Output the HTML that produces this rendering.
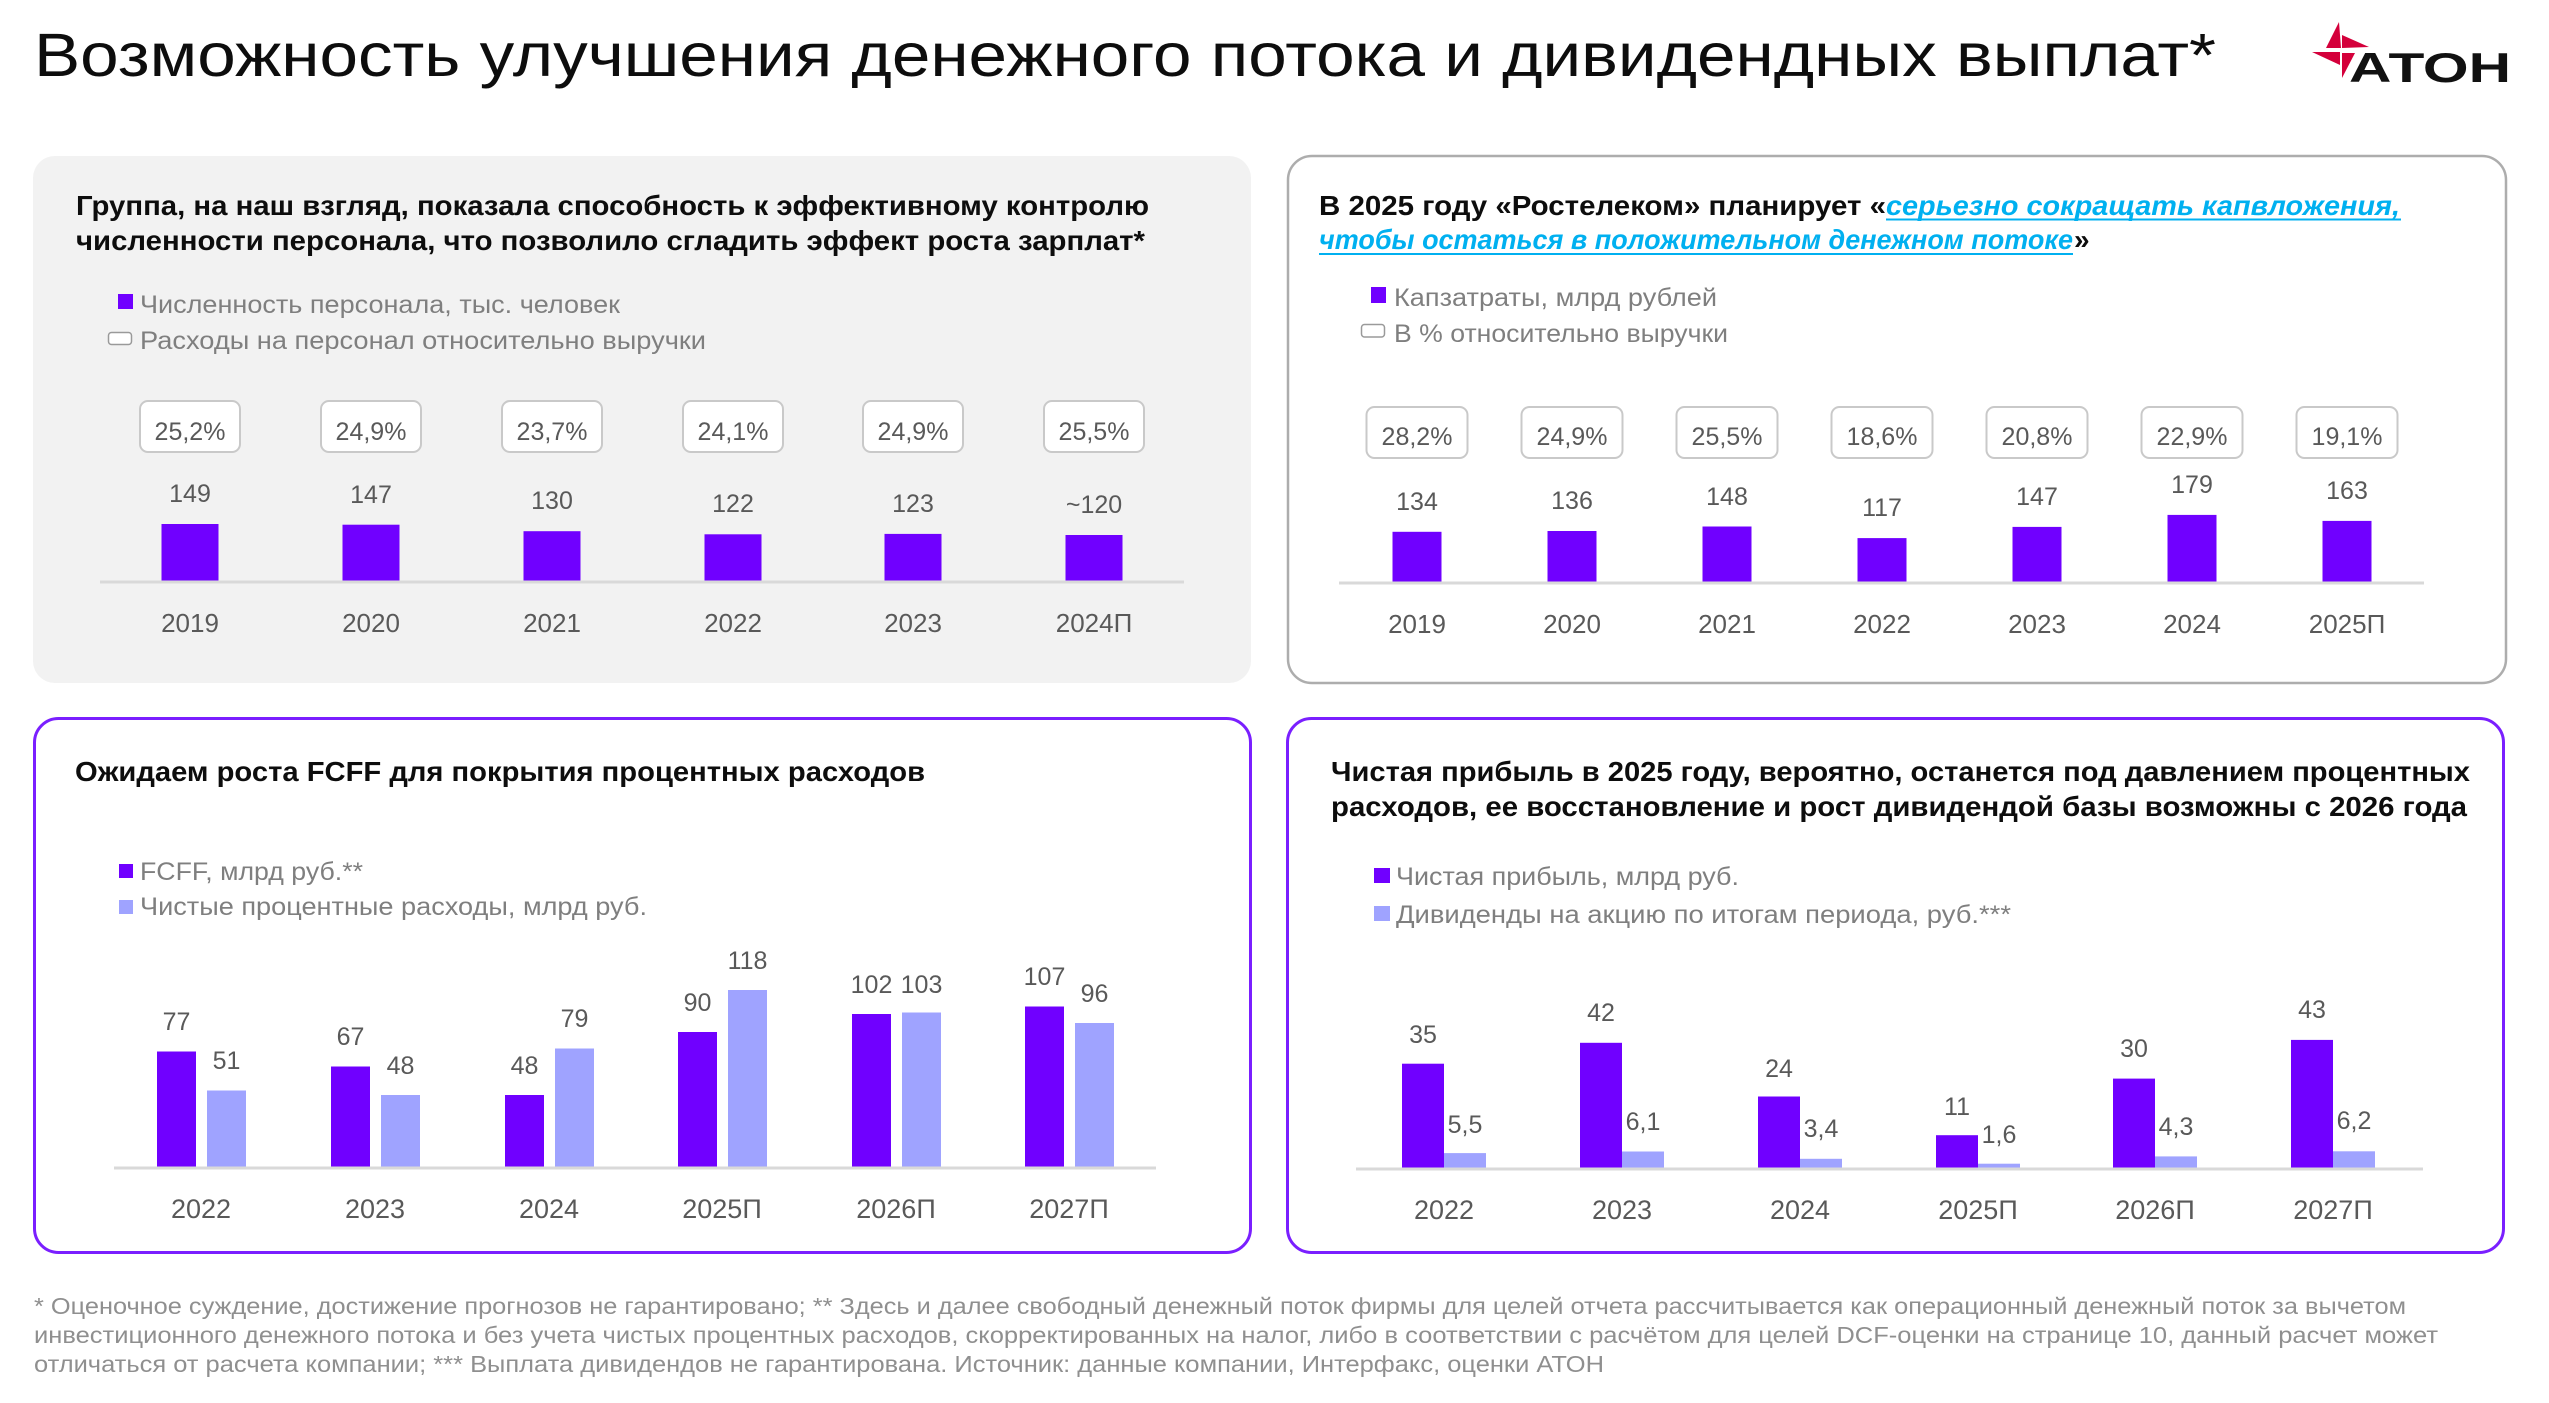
<!DOCTYPE html>
<html>
<head>
<meta charset="utf-8">
<style>
html,body{margin:0;padding:0;background:#fff;}
svg{display:block;}
text{font-family:"Liberation Sans","Noto Sans CJK SC",sans-serif;}
.t{font-weight:bold;font-size:28px;fill:#0d0d0d;}
.lg{font-size:25px;fill:#7f7f7f;}
.v{font-size:25px;fill:#595959;text-anchor:middle;}
.y{font-size:26px;fill:#595959;text-anchor:middle;}
.y2{font-size:27px;fill:#595959;text-anchor:middle;}
.fn{font-size:23px;fill:#8f8f8f;}
</style>
</head>
<body>
<svg width="2549" height="1403" viewBox="0 0 2549 1403" xmlns="http://www.w3.org/2000/svg">
<rect width="2549" height="1403" fill="#fff"/>

<!-- Title -->
<text x="34" y="76" font-size="61" fill="#0d0d0d" textLength="2182" lengthAdjust="spacingAndGlyphs">Возможность улучшения денежного потока и дивидендных выплат*</text>

<!-- Logo -->
<g fill="#d4003b">
<polygon points="2339,22 2341,48 2326,48"/>
<polygon points="2342,35 2369,47 2342,48"/>
<polygon points="2312,52 2340,52 2340,65"/>
<polygon points="2342,53 2355,53 2342,78"/>
</g>
<text x="2349" y="82" font-size="42" font-weight="bold" fill="#111" textLength="162" lengthAdjust="spacingAndGlyphs">АТОН</text>

<!-- Card 1 -->
<rect x="33" y="156" width="1218" height="527" rx="22" fill="#f2f2f2"/>
<text class="t" x="76" y="215" textLength="1073" lengthAdjust="spacingAndGlyphs">Группа, на наш взгляд, показала способность к эффективному контролю</text>
<text class="t" x="76" y="250" textLength="1069" lengthAdjust="spacingAndGlyphs">численности персонала, что позволило сгладить эффект роста зарплат*</text>
<rect x="118" y="294" width="15" height="15" fill="#7000ff"/>
<text class="lg" x="140" y="313" textLength="480" lengthAdjust="spacingAndGlyphs">Численность персонала, тыс. человек</text>
<rect x="108.5" y="332.5" width="23" height="12" rx="3" fill="#fff" stroke="#9a9a9a" stroke-width="1.5"/>
<text class="lg" x="140" y="349" textLength="566" lengthAdjust="spacingAndGlyphs">Расходы на персонал относительно выручки</text>

<g stroke="#c9c9c9" stroke-width="2" fill="#fff">
<rect x="140" y="401" width="100" height="51" rx="8"/>
<rect x="321" y="401" width="100" height="51" rx="8"/>
<rect x="502" y="401" width="100" height="51" rx="8"/>
<rect x="683" y="401" width="100" height="51" rx="8"/>
<rect x="863" y="401" width="100" height="51" rx="8"/>
<rect x="1044" y="401" width="100" height="51" rx="8"/>
</g>
<text class="v" x="190" y="440">25,2%</text>
<text class="v" x="371" y="440">24,9%</text>
<text class="v" x="552" y="440">23,7%</text>
<text class="v" x="733" y="440">24,1%</text>
<text class="v" x="913" y="440">24,9%</text>
<text class="v" x="1094" y="440">25,5%</text>

<g fill="#7000ff">
<rect x="161.5" y="524" width="57" height="57"/>
<rect x="342.5" y="524.7" width="57" height="56.3"/>
<rect x="523.5" y="531.2" width="57" height="49.8"/>
<rect x="704.5" y="534.3" width="57" height="46.7"/>
<rect x="884.5" y="533.9" width="57" height="47.1"/>
<rect x="1065.5" y="535" width="57" height="46"/>
</g>
<line x1="100" y1="582" x2="1184" y2="582" stroke="#d9d9d9" stroke-width="3"/>
<text class="v" x="190" y="502">149</text>
<text class="v" x="371" y="503">147</text>
<text class="v" x="552" y="509">130</text>
<text class="v" x="733" y="512">122</text>
<text class="v" x="913" y="512">123</text>
<text class="v" x="1094" y="513">~120</text>
<text class="y" x="190" y="632">2019</text>
<text class="y" x="371" y="632">2020</text>
<text class="y" x="552" y="632">2021</text>
<text class="y" x="733" y="632">2022</text>
<text class="y" x="913" y="632">2023</text>
<text class="y" x="1094" y="632">2024П</text>

<!-- Card 2 -->
<rect x="1288" y="156" width="1218" height="527" rx="24" fill="#fff" stroke="#adadad" stroke-width="2.5"/>
<text class="t" x="1319" y="215" textLength="567" lengthAdjust="spacingAndGlyphs">В 2025 году «Ростелеком» планирует «</text>
<text x="1886" y="215" font-size="28" font-weight="bold" font-style="italic" fill="#00b0f0" textLength="514" lengthAdjust="spacingAndGlyphs">серьезно сокращать капвложения,</text>
<line x1="1886" y1="219.5" x2="2401" y2="219.5" stroke="#00b0f0" stroke-width="2"/>
<text x="1319" y="249" font-size="28" font-weight="bold" font-style="italic" fill="#00b0f0" textLength="754" lengthAdjust="spacingAndGlyphs">чтобы остаться в положительном денежном потоке</text>
<line x1="1319" y1="254" x2="2073" y2="254" stroke="#00b0f0" stroke-width="2"/>
<text class="t" x="2074" y="249">»</text>
<rect x="1371" y="287" width="15" height="16" fill="#7000ff"/>
<text class="lg" x="1394" y="306" textLength="323" lengthAdjust="spacingAndGlyphs">Капзатраты, млрд рублей</text>
<rect x="1361.5" y="324.5" width="23" height="12.5" rx="3" fill="#fff" stroke="#9a9a9a" stroke-width="1.5"/>
<text class="lg" x="1394" y="342" textLength="334" lengthAdjust="spacingAndGlyphs">В % относительно выручки</text>

<g stroke="#c9c9c9" stroke-width="2" fill="#fff">
<rect x="1366.5" y="407" width="101" height="51" rx="8"/>
<rect x="1521.5" y="407" width="101" height="51" rx="8"/>
<rect x="1676.5" y="407" width="101" height="51" rx="8"/>
<rect x="1831.5" y="407" width="101" height="51" rx="8"/>
<rect x="1986.5" y="407" width="101" height="51" rx="8"/>
<rect x="2141.5" y="407" width="101" height="51" rx="8"/>
<rect x="2296.5" y="407" width="101" height="51" rx="8"/>
</g>
<text class="v" x="1417" y="445">28,2%</text>
<text class="v" x="1572" y="445">24,9%</text>
<text class="v" x="1727" y="445">25,5%</text>
<text class="v" x="1882" y="445">18,6%</text>
<text class="v" x="2037" y="445">20,8%</text>
<text class="v" x="2192" y="445">22,9%</text>
<text class="v" x="2347" y="445">19,1%</text>

<g fill="#7000ff">
<rect x="1392.5" y="531.8" width="49" height="50.2"/>
<rect x="1547.5" y="531" width="49" height="51"/>
<rect x="1702.5" y="526.5" width="49" height="55.5"/>
<rect x="1857.5" y="538.1" width="49" height="43.9"/>
<rect x="2012.5" y="526.9" width="49" height="55.1"/>
<rect x="2167.5" y="514.9" width="49" height="67.1"/>
<rect x="2322.5" y="520.9" width="49" height="61.1"/>
</g>
<line x1="1339" y1="583" x2="2424" y2="583" stroke="#d9d9d9" stroke-width="3"/>
<text class="v" x="1417" y="510">134</text>
<text class="v" x="1572" y="509">136</text>
<text class="v" x="1727" y="505">148</text>
<text class="v" x="1882" y="516">117</text>
<text class="v" x="2037" y="505">147</text>
<text class="v" x="2192" y="493">179</text>
<text class="v" x="2347" y="499">163</text>
<text class="y" x="1417" y="633">2019</text>
<text class="y" x="1572" y="633">2020</text>
<text class="y" x="1727" y="633">2021</text>
<text class="y" x="1882" y="633">2022</text>
<text class="y" x="2037" y="633">2023</text>
<text class="y" x="2192" y="633">2024</text>
<text class="y" x="2347" y="633">2025П</text>

<!-- Card 3 -->
<rect x="34.5" y="718.5" width="1216" height="534" rx="24" fill="#fff" stroke="#7a1fff" stroke-width="3"/>
<text class="t" x="75" y="781" textLength="850" lengthAdjust="spacingAndGlyphs">Ожидаем роста FCFF для покрытия процентных расходов</text>
<rect x="119" y="864" width="14" height="14" fill="#7000ff"/>
<text class="lg" x="140" y="880" textLength="223" lengthAdjust="spacingAndGlyphs">FCFF, млрд руб.**</text>
<rect x="119" y="900" width="14" height="14" fill="#9fa3ff"/>
<text class="lg" x="140" y="915" textLength="507" lengthAdjust="spacingAndGlyphs">Чистые процентные расходы, млрд руб.</text>

<g fill="#7000ff">
<rect x="157" y="1051.5" width="39" height="115.5"/>
<rect x="331" y="1066.5" width="39" height="100.5"/>
<rect x="505" y="1095" width="39" height="72"/>
<rect x="678" y="1032" width="39" height="135"/>
<rect x="852" y="1014" width="39" height="153"/>
<rect x="1025" y="1006.5" width="39" height="160.5"/>
</g>
<g fill="#9fa3ff">
<rect x="207" y="1090.5" width="39" height="76.5"/>
<rect x="381" y="1095" width="39" height="72"/>
<rect x="555" y="1048.5" width="39" height="118.5"/>
<rect x="728" y="990" width="39" height="177"/>
<rect x="902" y="1012.5" width="39" height="154.5"/>
<rect x="1075" y="1023" width="39" height="144"/>
</g>
<line x1="114" y1="1168" x2="1156" y2="1168" stroke="#d9d9d9" stroke-width="3"/>
<text class="v" x="176.5" y="1030">77</text>
<text class="v" x="226.5" y="1069">51</text>
<text class="v" x="350.5" y="1045">67</text>
<text class="v" x="400.5" y="1074">48</text>
<text class="v" x="524.5" y="1074">48</text>
<text class="v" x="574.5" y="1027">79</text>
<text class="v" x="697.5" y="1011">90</text>
<text class="v" x="747.5" y="969">118</text>
<text class="v" x="871.5" y="993">102</text>
<text class="v" x="921.5" y="993">103</text>
<text class="v" x="1044.5" y="985">107</text>
<text class="v" x="1094.5" y="1002">96</text>
<text class="y2" x="201" y="1218">2022</text>
<text class="y2" x="375" y="1218">2023</text>
<text class="y2" x="549" y="1218">2024</text>
<text class="y2" x="722" y="1218">2025П</text>
<text class="y2" x="896" y="1218">2026П</text>
<text class="y2" x="1069" y="1218">2027П</text>

<!-- Card 4 -->
<rect x="1287.5" y="718.5" width="1216" height="534" rx="24" fill="#fff" stroke="#7a1fff" stroke-width="3"/>
<text class="t" x="1331" y="781" textLength="1139" lengthAdjust="spacingAndGlyphs">Чистая прибыль в 2025 году, вероятно, останется под давлением процентных</text>
<text class="t" x="1331" y="816" textLength="1136" lengthAdjust="spacingAndGlyphs">расходов, ее восстановление и рост дивидендой базы возможны с 2026 года</text>
<rect x="1374" y="868" width="16" height="15" fill="#7000ff"/>
<text class="lg" x="1396" y="885" textLength="343" lengthAdjust="spacingAndGlyphs">Чистая прибыль, млрд руб.</text>
<rect x="1374" y="906" width="16" height="15" fill="#9fa3ff"/>
<text class="lg" x="1396" y="923" textLength="615" lengthAdjust="spacingAndGlyphs">Дивиденды на акцию по итогам периода, руб.***</text>

<g fill="#7000ff">
<rect x="1402" y="1063.7" width="42" height="104.3"/>
<rect x="1580" y="1042.8" width="42" height="125.2"/>
<rect x="1758" y="1096.5" width="42" height="71.5"/>
<rect x="1936" y="1135.2" width="42" height="32.8"/>
<rect x="2113" y="1078.6" width="42" height="89.4"/>
<rect x="2291" y="1039.9" width="42" height="128.1"/>
</g>
<g fill="#9fa3ff">
<rect x="1444" y="1153.1" width="42" height="14.9"/>
<rect x="1622" y="1151.5" width="42" height="16.5"/>
<rect x="1800" y="1158.8" width="42" height="9.2"/>
<rect x="1978" y="1163.7" width="42" height="4.3"/>
<rect x="2155" y="1156.4" width="42" height="11.6"/>
<rect x="2333" y="1151.3" width="42" height="16.7"/>
</g>
<line x1="1356" y1="1169" x2="2423" y2="1169" stroke="#d9d9d9" stroke-width="3"/>
<text class="v" x="1423" y="1043">35</text>
<text class="v" x="1465" y="1133">5,5</text>
<text class="v" x="1601" y="1021">42</text>
<text class="v" x="1643" y="1130">6,1</text>
<text class="v" x="1779" y="1077">24</text>
<text class="v" x="1821" y="1137">3,4</text>
<text class="v" x="1957" y="1115">11</text>
<text class="v" x="1999" y="1143">1,6</text>
<text class="v" x="2134" y="1057">30</text>
<text class="v" x="2176" y="1135">4,3</text>
<text class="v" x="2312" y="1018">43</text>
<text class="v" x="2354" y="1129">6,2</text>
<text class="y2" x="1444" y="1219">2022</text>
<text class="y2" x="1622" y="1219">2023</text>
<text class="y2" x="1800" y="1219">2024</text>
<text class="y2" x="1978" y="1219">2025П</text>
<text class="y2" x="2155" y="1219">2026П</text>
<text class="y2" x="2333" y="1219">2027П</text>

<!-- Footnote -->
<text class="fn" x="34" y="1314" textLength="2372" lengthAdjust="spacingAndGlyphs">* Оценочное суждение, достижение прогнозов не гарантировано; ** Здесь и далее свободный денежный поток фирмы для целей отчета рассчитывается как операционный денежный поток за вычетом</text>
<text class="fn" x="34" y="1343" textLength="2404" lengthAdjust="spacingAndGlyphs">инвестиционного денежного потока и без учета чистых процентных расходов, скорректированных на налог, либо в соответствии с расчётом для целей DCF-оценки на странице 10, данный расчет может</text>
<text class="fn" x="34" y="1372" textLength="1570" lengthAdjust="spacingAndGlyphs">отличаться от расчета компании; *** Выплата дивидендов не гарантирована. Источник: данные компании, Интерфакс, оценки АТОН</text>
</svg>
</body>
</html>
